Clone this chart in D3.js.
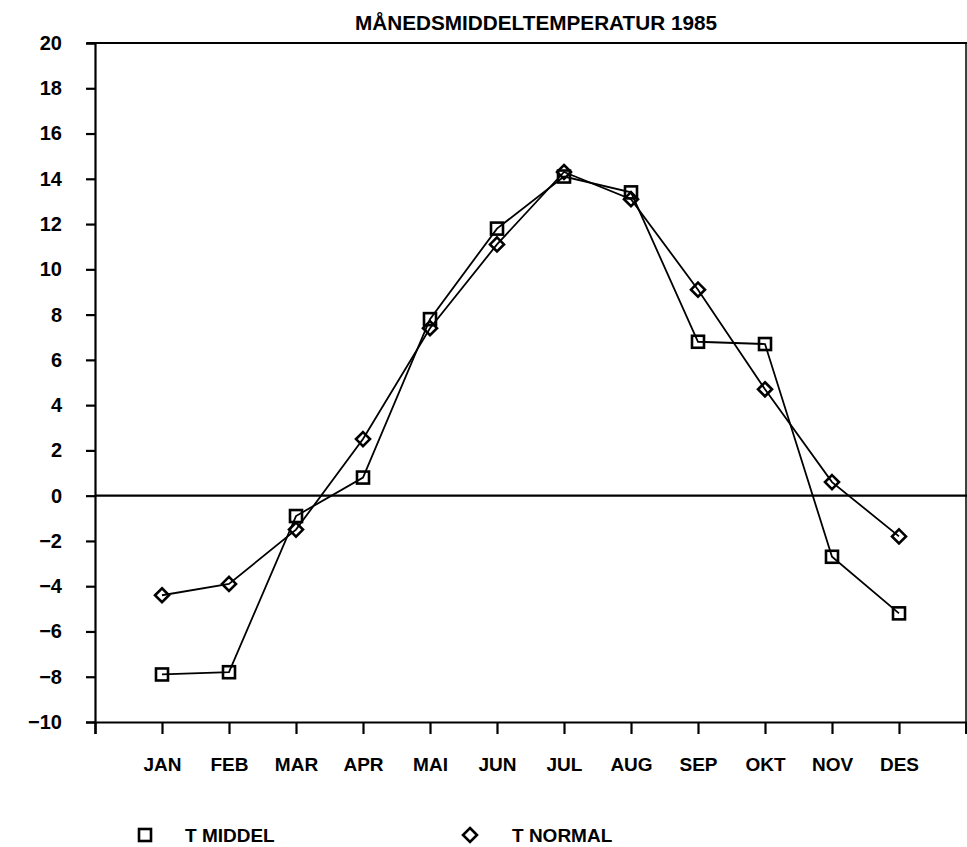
<!DOCTYPE html>
<html><head><meta charset="utf-8">
<script src="https://cdn.jsdelivr.net/npm/d3@7"></script>
<style>
html,body{margin:0;padding:0;background:#fff;}
svg{display:block;}
text{font-family:"Liberation Sans",Arial,sans-serif;font-weight:bold;fill:#000;}
</style></head>
<body><svg id="c" width="967" height="847"></svg>
<script>
const months = ["JAN","FEB","MAR","APR","MAI","JUN","JUL","AUG","SEP","OKT","NOV","DES"];
const tMiddel = [-7.9,-7.8,-0.9,0.8,7.8,11.8,14.1,13.4,6.8,6.7,-2.7,-5.2];
const tNormal = [-4.4,-3.9,-1.5,2.5,7.4,11.1,14.3,13.1,9.1,4.7,0.6,-1.8];
const yTicks = [-10,-8,-6,-4,-2,0,2,4,6,8,10,12,14,16,18,20];
const titleText = "MÅNEDSMIDDELTEMPERATUR 1985";
const legendNames = ["T MIDDEL","T NORMAL"];

const svg = d3.select("#c");
const x = d3.scaleLinear().domain([0,13]).range([95,966]);
const y = d3.scaleLinear().domain([-10,20]).range([722,43]);

// title
svg.append("text").attr("x",536).attr("y",30).attr("text-anchor","middle")
  .attr("font-size",20).attr("textLength",362).attr("lengthAdjust","spacingAndGlyphs")
  .text(titleText);

// y axis
const yAxis = d3.axisLeft(y).tickValues(yTicks).tickSize(9).tickPadding(24)
  .tickFormat(d3.format("d"));
const gy = svg.append("g").attr("transform",`translate(${x(0)},0)`).call(yAxis);
gy.select(".domain").attr("stroke","#000").attr("stroke-width",2.2);
gy.selectAll(".tick line").attr("stroke","#000").attr("stroke-width",2.2);
gy.selectAll(".tick text").attr("font-size",20).attr("font-family","Liberation Sans, Arial, sans-serif")
  .attr("font-weight","bold").attr("fill","#000");

// x axis (bottom)
const xAxis = d3.axisBottom(x).tickValues(d3.range(0,14)).tickSize(12).tickPadding(24)
  .tickFormat(i => (i>=1 && i<=12) ? months[i-1] : "");
const gx = svg.append("g").attr("transform",`translate(0,${y(-10)})`).call(xAxis);
gx.select(".domain").attr("stroke","#000").attr("stroke-width",2.2);
gx.selectAll(".tick line").attr("stroke","#000").attr("stroke-width",2.2);
gx.selectAll(".tick text").attr("font-size",19).attr("font-family","Liberation Sans, Arial, sans-serif")
  .attr("font-weight","bold").attr("fill","#000");

// top border and right border
svg.append("line").attr("x1",x(0)-8).attr("x2",x(13)+1).attr("y1",y(20)).attr("y2",y(20))
  .attr("stroke","#000").attr("stroke-width",2.2);
svg.append("line").attr("x1",x(13)).attr("x2",x(13)).attr("y1",y(20)).attr("y2",y(-10)+12)
  .attr("stroke","#000").attr("stroke-width",1.5);
// zero line
svg.append("line").attr("x1",x(0)).attr("x2",x(13)+1).attr("y1",y(0)).attr("y2",y(0))
  .attr("stroke","#000").attr("stroke-width",2.2);

const line = d3.line().x((d,i)=>x(i+1)).y(d=>y(d));
svg.append("path").datum(tNormal).attr("d",line).attr("fill","none").attr("stroke","#000").attr("stroke-width",1.8);
svg.append("path").datum(tMiddel).attr("d",line).attr("fill","none").attr("stroke","#000").attr("stroke-width",1.8);

const sq = 12, dm = 7;
function square(g, cx, cy){
  g.append("rect").attr("x",cx-sq/2).attr("y",cy-sq/2).attr("width",sq).attr("height",sq)
    .attr("fill","none").attr("stroke","#000").attr("stroke-width",2.6);
}
function diamond(g, cx, cy){
  g.append("path").attr("d",`M${cx},${cy-dm}L${cx+dm},${cy}L${cx},${cy+dm}L${cx-dm},${cy}Z`)
    .attr("fill","none").attr("stroke","#000").attr("stroke-width",2.6);
}
const gm = svg.append("g");
tNormal.forEach((v,i)=>diamond(gm, x(i+1), y(v)));
tMiddel.forEach((v,i)=>square(gm, x(i+1), y(v)));

// legend
const lg = svg.append("g");
square(lg, 145, 835);
lg.append("text").attr("x",185).attr("y",842).attr("font-size",19).text(legendNames[0]);
diamond(lg, 470, 835);
lg.append("text").attr("x",512).attr("y",842).attr("font-size",19).text(legendNames[1]);
</script></body></html>
